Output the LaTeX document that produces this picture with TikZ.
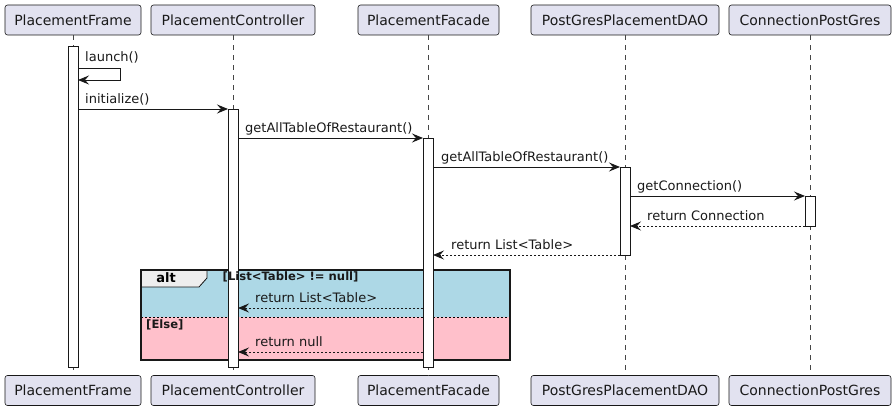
\documentclass[tikz,border=0pt]{standalone}
\usepackage{fontspec}
\setmainfont{DejaVu Sans}
\usetikzlibrary{arrows.meta}
\definecolor{partfill}{HTML}{E2E2F0}
\definecolor{partdraw}{HTML}{181818}
\definecolor{altblue}{HTML}{ADD8E6}
\definecolor{altpink}{HTML}{FFC0CB}
\definecolor{tabfill}{HTML}{EEEEEE}
\begin{document}
\begin{tikzpicture}[x=1pt,y=-1pt,
  part/.style={draw=partdraw, fill=partfill, rounded corners=2.5pt, line width=0.6pt,
    minimum height=30pt, inner sep=0pt, font=\fontsize{14}{16}\selectfont, text=black!90},
  life/.style={draw=partdraw!80, line width=0.5pt, dash pattern=on 5pt off 5pt},
  bar/.style={draw=partdraw, fill=white, line width=0.8pt, minimum width=10pt, inner sep=0pt, anchor=north},
  msg/.style={draw=partdraw, line width=0.9pt, -{Stealth[length=11pt,width=9pt,inset=4pt]}},
  ret/.style={msg, dash pattern=on 2pt off 2pt},
  lbl/.style={anchor=base west, inner sep=0pt, font=\fontsize{13}{15}\selectfont, text=black!90},
  cond/.style={anchor=base west, inner sep=0pt, font=\fontsize{11.6}{13}\selectfont\bfseries, text=black!90}
]
\useasboundingbox (0,0) rectangle (896,411);

% participants (top)
\node[part, minimum width=136pt] (pfT) at (73,20) {PlacementFrame};
\node[part, minimum width=164pt] (pcT) at (233,20) {PlacementController};
\node[part, minimum width=141pt] (faT) at (428.5,20) {PlacementFacade};
\node[part, minimum width=188pt] (daT) at (625,20) {PostGresPlacementDAO};
\node[part, minimum width=162pt] (coT) at (810,20) {ConnectionPostGres};
% participants (bottom)
\node[part, minimum width=136pt] (pfB) at (73,390.5) {PlacementFrame};
\node[part, minimum width=164pt] (pcB) at (233,390.5) {PlacementController};
\node[part, minimum width=141pt] (faB) at (428.5,390.5) {PlacementFacade};
\node[part, minimum width=188pt] (daB) at (625,390.5) {PostGresPlacementDAO};
\node[part, minimum width=162pt] (coB) at (810,390.5) {ConnectionPostGres};

% lifelines
\draw[life] (pfT.south) -- (pfB.north);
\draw[life] (pcT.south) -- (pcB.north);
\draw[life] (428,35) -- (428,375.5);
\draw[life] (daT.south) -- (daB.north);
\draw[life] (coT.south) -- (coB.north);

% alt fragment
\fill[altblue] (141,270) rectangle (510,317);
\fill[altpink] (141,317) rectangle (510,360);
\draw[line width=0.6pt, dash pattern=on 2pt off 2pt] (141,317) -- (510,317);
\filldraw[fill=tabfill, draw=partdraw, line width=0.8pt] (141,270) -- (207,270) -- (207,278) -- (199,287) -- (141,287) -- cycle;
\node[anchor=base, inner sep=0pt, font=\fontsize{13}{15}\selectfont\bfseries] (altlbl) at (166,283) {alt};
\draw[line width=1.5pt, draw=partdraw] (141,270) rectangle (510,360);

% activation bars
\node[bar, minimum height=321pt] (barF) at (73,46) {};
\node[bar, minimum height=258pt] (barC) at (233,109) {};
\node[bar, minimum height=229pt] (barA) at (428,138) {};
\node[bar, minimum height=88pt] (barD) at (625,167) {};
\node[bar, minimum height=30pt] (barN) at (810,196) {};

% guards
\node[cond] (c1) at (222.5,281) {[List<Table> != null]};
\node[cond] (c2) at (146,328) {[Else]};

% message endpoints
\coordinate (l1a) at (78,68);
\coordinate (l1b) at (120,68);
\coordinate (l1c) at (120,80);
\coordinate (l1d) at (78,80);
\coordinate (m2a) at (78,109);   \coordinate (m2b) at (228,109);
\coordinate (m3a) at (238,138);  \coordinate (m3b) at (423,138);
\coordinate (m4a) at (433,167);  \coordinate (m4b) at (620,167);
\coordinate (m5a) at (630,196);  \coordinate (m5b) at (805,196);
\coordinate (m6a) at (805,226);  \coordinate (m6b) at (630,226);
\coordinate (m7a) at (620,255);  \coordinate (m7b) at (433,255);
\coordinate (m8a) at (423,308);  \coordinate (m8b) at (238,308);
\coordinate (m9a) at (423,352);  \coordinate (m9b) at (238,352);

\draw[msg] (l1a) -- (l1b) -- (l1c) -- (l1d);
\node[lbl] (t1) at (85,62) {launch()};
\draw[msg] (m2a) -- (m2b);
\node[lbl] (t2) at (85,103.5) {initialize()};
\draw[msg] (m3a) -- (m3b);
\node[lbl] (t3) at (245,132.5) {getAllTableOfRestaurant()};
\draw[msg] (m4a) -- (m4b);
\node[lbl] (t4) at (441,161.5) {getAllTableOfRestaurant()};
\draw[msg] (m5a) -- (m5b);
\node[lbl] (t5) at (637,190.5) {getConnection()};
\draw[ret] (m6a) -- (m6b);
\node[lbl] (t6) at (647,220.5) {return Connection};
\draw[ret] (m7a) -- (m7b);
\node[lbl] (t7) at (451,249.5) {return List<Table>};
\draw[ret] (m8a) -- (m8b);
\node[lbl] (t8) at (255,302.5) {return List<Table>};
\draw[ret] (m9a) -- (m9b);
\node[lbl] (t9) at (255,346.5) {return null};
\end{tikzpicture}
\end{document}
